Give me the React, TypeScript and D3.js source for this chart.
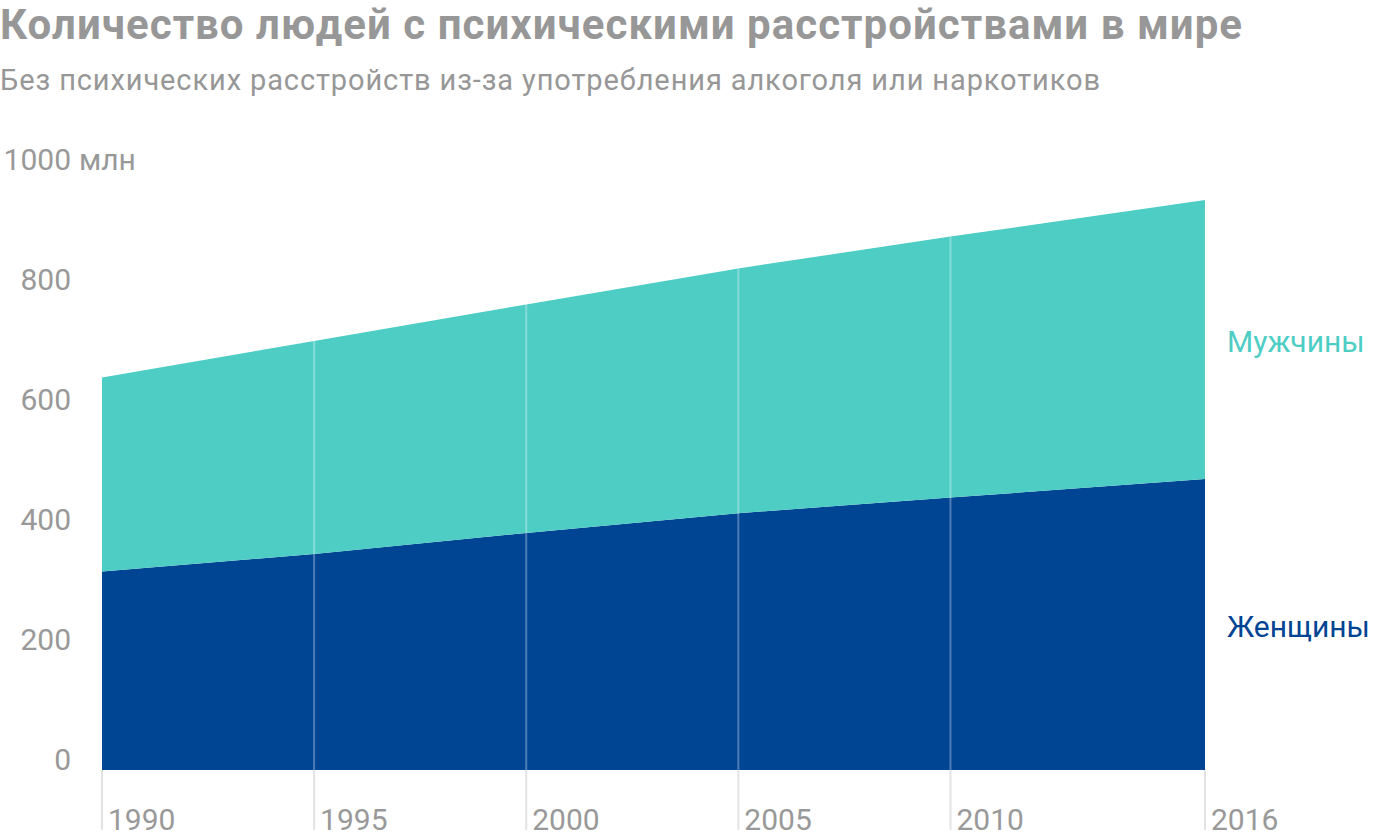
import React from "react";
import * as d3 from "d3";

const years = [1990, 1995, 2000, 2005, 2010, 2016];
const women = [331, 360, 395, 428, 454, 485];
const men = [323, 355, 381, 408, 435, 465];
const yTicks = [0, 200, 400, 600, 800, 1000];
const gridYears = [1990, 1995, 2000, 2005, 2010, 2016];
const seriesNames = ["Женщины", "Мужчины"];
const seriesColors = ["#004494", "#4ECDC4"];

const title = "Количество людей с психическими расстройствами в мире";
const subtitle = "Без психических расстройств из-за употребления алкоголя или наркотиков";

export default function App() {
  const W = 1400;
  const H = 830;
  const x = d3.scaleLinear().domain([1990, 2016]).range([102, 1205]);
  const y = d3.scaleLinear().domain([0, 1000]).range([770, 170]);

  const rows = years.map((yr, i) => ({ year: yr, women: women[i], men: men[i] }));
  const stack = d3.stack<any>().keys(["women", "men"])(rows);
  const area = d3
    .area<any>()
    .x((d) => x(d.data.year))
    .y0((d) => y(d[0]))
    .y1((d) => y(d[1]));

  const font = "Roboto, 'Noto Sans', sans-serif";
  const totalAt = (yr: number) => {
    const i = years.indexOf(yr);
    return women[i] + men[i];
  };

  return (
    <svg
      width={W}
      height={H}
      style={{ position: "absolute", left: 0, top: 0, display: "block" }}
      fontFamily={font}
    >
      <rect x={0} y={0} width={W} height={H} fill="#fff" />
      <text x={0} y={39} fontSize={42} fontWeight={700} fill="#979797" textLength={1242} lengthAdjust="spacing">
        {title}
      </text>
      <text x={0} y={90} fontSize={29} fill="#979797" textLength={1100} lengthAdjust="spacing">
        {subtitle}
      </text>

      {stack.map((s, i) => (
        <path key={i} d={area(s) || ""} fill={seriesColors[i]} />
      ))}

      {gridYears.map((yr) => (
        <g key={yr}>
          {yr !== 1990 && yr !== 2016 && (
            <line
              x1={x(yr)}
              x2={x(yr)}
              y1={y(totalAt(yr))}
              y2={y(0)}
              stroke="#ffffff"
              strokeOpacity={0.3}
              strokeWidth={2}
            />
          )}
          <line x1={x(yr)} x2={x(yr)} y1={y(0)} y2={H} stroke="#e3e3e3" strokeWidth={2} />
          <text x={x(yr) + 6} y={830} fontSize={30} fill="#999">
            {yr}
          </text>
        </g>
      ))}

      {yTicks.map((t) => (
        <g key={t}>
          <text x={71} y={y(t)} fontSize={30} fill="#999" textAnchor="end">
            {t}
          </text>
          {t === 1000 && (
            <text x={79} y={y(t)} fontSize={30} fill="#999">
              млн
            </text>
          )}
        </g>
      ))}

      <text x={1227} y={352} fontSize={30} fill={seriesColors[1]}>
        {seriesNames[1]}
      </text>
      <text x={1227} y={637} fontSize={30} fill={seriesColors[0]}>
        {seriesNames[0]}
      </text>
    </svg>
  );
}
